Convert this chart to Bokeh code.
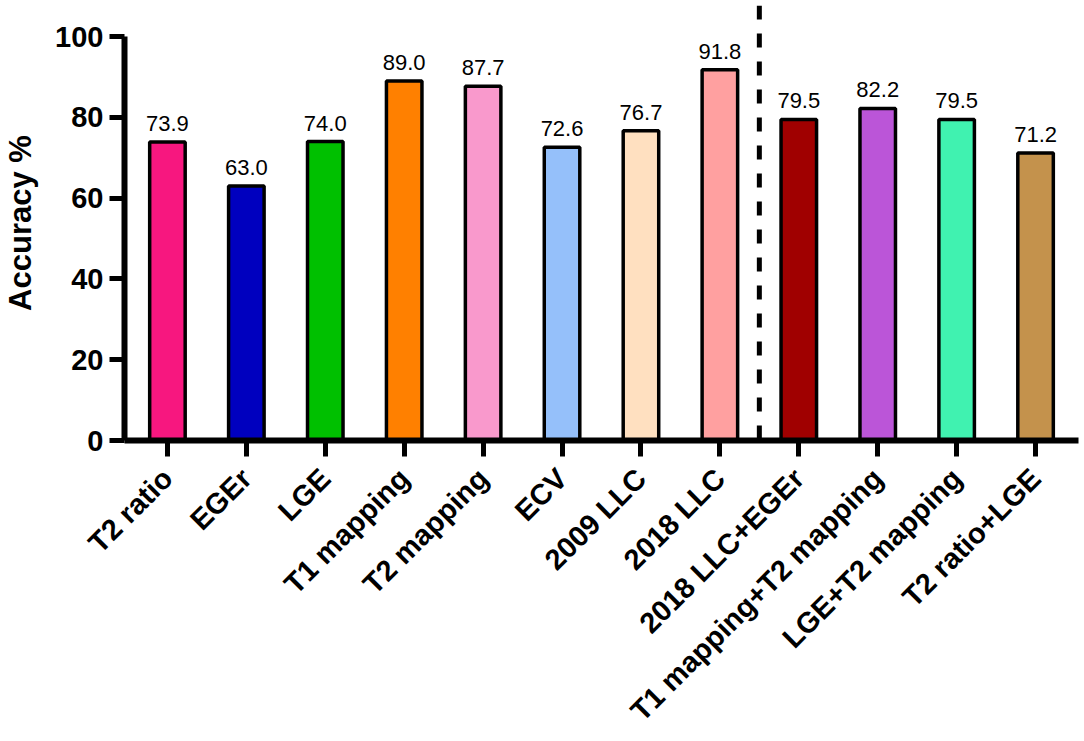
from bokeh.plotting import figure
from bokeh.models import ColumnDataSource, Range1d, FixedTicker, Span, LabelSet
from bokeh.core.properties import value
from bokeh.embed import file_html
from bokeh.resources import INLINE
import math

categories = ["T2 ratio", "EGEr", "LGE", "T1 mapping", "T2 mapping", "ECV",
              "2009 LLC", "2018 LLC", "2018 LLC+EGEr", "T1 mapping+T2 mapping",
              "LGE+T2 mapping", "T2 ratio+LGE"]
accuracy = [73.9, 63.0, 74.0, 89.0, 87.7, 72.6, 76.7, 91.8, 79.5, 82.2, 79.5, 71.2]
colors = ["#F7177F", "#0000BF", "#00C000", "#FF8000", "#F999CC", "#95C0FA",
          "#FFE0C0", "#FFA0A0", "#A00000", "#BB55D8", "#40F2B0", "#C4924C"]
y_ticks = [0, 20, 40, 60, 80, 100]
split_after = 8  # dashed separator between single and combined methods

xs = list(range(len(categories)))
src = ColumnDataSource(dict(x=xs, top=accuracy, color=colors,
                            label=[f"{v:.1f}" for v in accuracy]))

FONT = "Liberation Sans"

p = figure(width=1080, height=741, output_backend="svg", toolbar_location=None,
           x_range=Range1d(-0.544, 11.544), y_range=Range1d(0, 107.7),
           min_border_left=122, min_border_right=2, min_border_top=5,
           min_border_bottom=301)
p.outline_line_color = None
p.grid.visible = False
p.background_fill_color = "white"

p.vbar(x="x", top="top", bottom=0, width=0.45, fill_color="color",
       line_color="black", line_width=3.5, source=src)

labels = LabelSet(x="x", y="top", text="label", source=src, text_align="center",
                  text_baseline="alphabetic", y_offset=11, text_font=value(FONT),
                  text_font_size="22px", text_color="black")
p.add_layout(labels)

sep = Span(location=split_after - 0.5, dimension="height", line_color="black",
           line_width=5, line_dash="14 14")
p.add_layout(sep)

# y axis
ya = p.yaxis[0]
ya.ticker = FixedTicker(ticks=y_ticks)
ya.bounds = (0, 100)
ya.axis_label = "Accuracy %"
ya.axis_label_text_font = FONT
ya.axis_label_text_font_style = "bold"
ya.axis_label_text_font_size = "31px"
ya.axis_label_text_color = "black"
ya.axis_label_standoff = 14
ya.major_label_text_font = FONT
ya.major_label_text_font_style = "bold"
ya.major_label_text_font_size = "29px"
ya.major_label_text_color = "black"
ya.major_label_standoff = 6
ya.axis_line_width = 6
ya.axis_line_color = "black"
ya.major_tick_line_width = 5
ya.major_tick_line_color = "black"
ya.major_tick_out = 15
ya.major_tick_in = 0
ya.minor_tick_line_color = None

# x axis
xa = p.xaxis[0]
xa.ticker = FixedTicker(ticks=xs)
xa.major_label_overrides = {i: c for i, c in zip(xs, categories)}
xa.major_label_orientation = math.pi / 4
xa.major_label_text_font = FONT
xa.major_label_text_font_style = "bold"
xa.major_label_text_font_size = "29px"
xa.major_label_text_color = "black"
xa.major_label_standoff = 17
xa.axis_line_width = 6
xa.axis_line_color = "black"
xa.major_tick_line_width = 5
xa.major_tick_line_color = "black"
xa.major_tick_out = 16
xa.major_tick_in = 0
xa.minor_tick_line_color = None

open("out.html", "w").write(file_html(p, INLINE))
